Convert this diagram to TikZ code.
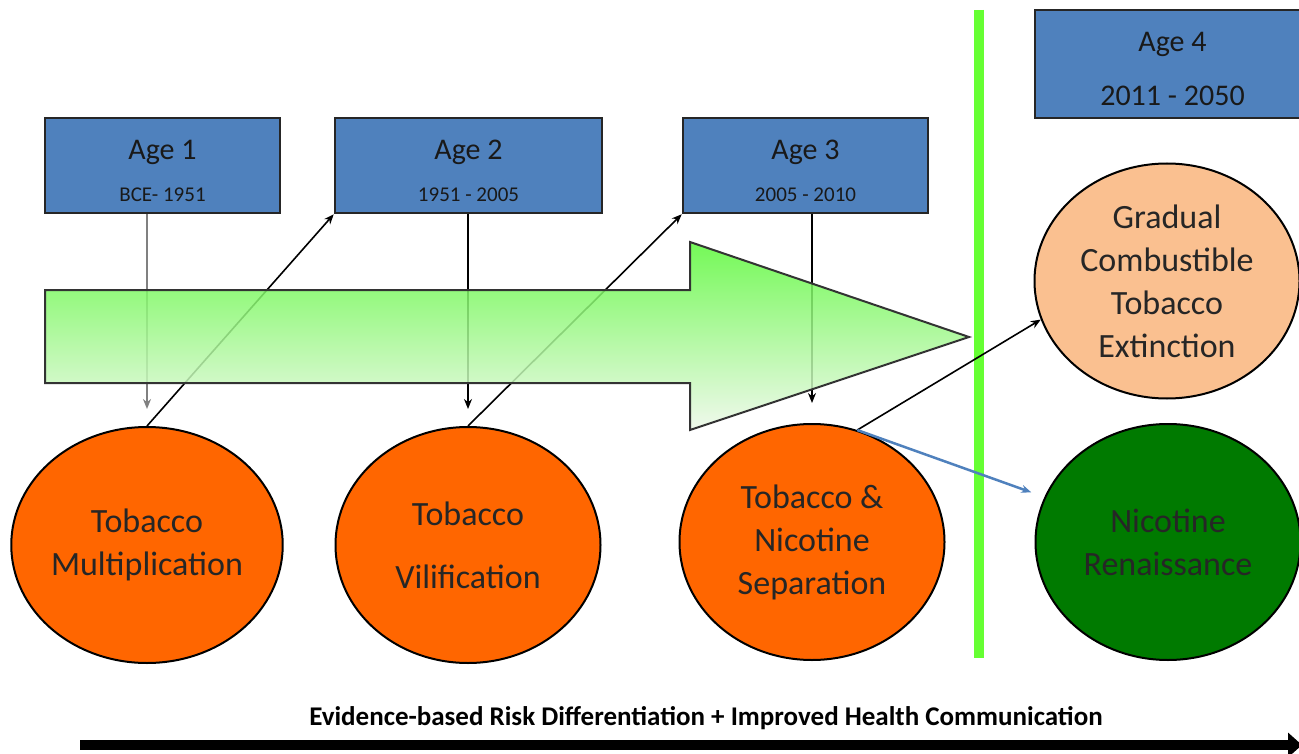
\documentclass[tikz,border=0pt]{standalone}
\usepackage{fontspec}
\setmainfont{Carlito}
\usetikzlibrary{shapes.geometric,arrows.meta}

\definecolor{ageblue}{HTML}{4F81BD}
\definecolor{phaseorange}{HTML}{FF6600}
\definecolor{phasepeach}{HTML}{FAC090}
\definecolor{phasegreen}{HTML}{007A00}
\definecolor{divider}{HTML}{66FF33}
\definecolor{arrowtop}{HTML}{5CF83A}
\definecolor{arrowbot}{HTML}{EEF8EA}
\definecolor{linkblue}{HTML}{4F81BD}

\newcommand{\agetop}{\rule{0pt}{30pt}}

\tikzset{
  agebox/.style={draw=black!85, line width=2.5, fill=ageblue, minimum width=235,
    minimum height=95, align=center, inner sep=0, text=black!90,
    font=\fontsize{30}{36}\selectfont},
  phase/.style={ellipse, draw=black, line width=2, minimum width=265,
    minimum height=236, align=center, inner sep=0, text=black!85,
    font=\fontsize{34}{43}\selectfont},
  link/.style={->, line width=1.6},
}

\begin{document}
\begin{tikzpicture}[x=1pt, y=-1pt, >={Stealth[length=10pt,width=8pt]}]
  \useasboundingbox[fill=white] (0,0) rectangle (1299,754);

  % the four ages
  \node[agebox] (age1) at (162.5,165.5) {\agetop Age 1\\[6pt]{\fontsize{21}{24}\selectfont BCE- 1951}};
  \node[agebox, minimum width=267] (age2) at (468.5,165.5) {\agetop Age 2\\[6pt]{\fontsize{21}{24}\selectfont 1951 - 2005}};
  \node[agebox, minimum width=245] (age3) at (805.5,165.5) {\agetop Age 3\\[6pt]{\fontsize{21}{24}\selectfont 2005 - 2010}};
  \node[agebox, minimum width=275, minimum height=108] (age4) at (1172.5,64) {\agetop Age 4\\[18pt]2011 - 2050};

  % phases
  \node[phase, fill=phaseorange] (mult) at (147,545) {Tobacco\\Multiplication};
  \node[phase, fill=phaseorange] (vil) at (468,545) {Tobacco\\[20pt]Vilification};
  \node[phase, fill=phaseorange] (sep) at (812,542) {Tobacco \&\\Nicotine\\Separation};
  \node[phase, fill=phasepeach, minimum height=235] (grad) at (1167,281) {Gradual\\Combustible\\Tobacco\\Extinction};
  \node[phase, fill=phasegreen] (ren) at (1168,542) {Nicotine\\Renaissance};

  % connectors
  \draw[link, draw=black!50, line width=2.5, shorten >=17] (age1.south -| mult) -- (mult.north);
  \draw[link, shorten >=17] (age2.south -| vil) -- (vil.north);
  \draw[link, shorten >=20] (age3.south -| sep) -- (sep.north);
  \draw[link] (mult.north) -- (age2.south west);
  \draw[link] (vil.north) -- (age3.south west);

  % big progress arrow
  \path[draw=black!80, line width=2, fill opacity=0.85, top color=arrowtop, bottom color=arrowbot]
    (45,290) -- (690,290) -- (690,242) -- (969,337) -- (690,430) -- (690,383) -- (45,383) -- cycle;

  % divider
  \coordinate (divtop) at (979,10);
  \coordinate (divbot) at (979,658);
  \draw[divider, line width=10] (divtop) -- (divbot);

  \draw[link] (sep.68) -- (grad.197);
  \draw[link, linkblue, line width=2.5, shorten >=14] (sep.68) -- (ren.160);

  % bottom axis
  \node[font=\fontsize{27}{32}\selectfont\bfseries] (ev) at (706,718)
    {Evidence-based Risk Differentiation + Improved Health Communication};
  \coordinate (evstart) at (80,745);
  \coordinate (evend) at (1302,745);
  \draw[line width=10, -{Triangle[length=14pt,width=24pt]}] (evstart) -- (evend);
\end{tikzpicture}
\end{document}
